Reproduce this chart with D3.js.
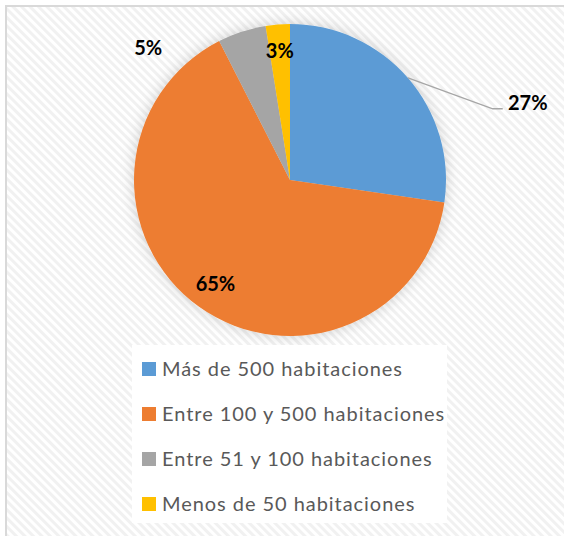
<!DOCTYPE html>
<html><head><meta charset="utf-8">
<script src="https://cdn.jsdelivr.net/npm/d3@7"></script>
<style>html,body{margin:0;padding:0;background:#fff;}svg{display:block;}</style>
</head><body>
<svg id="c" width="564" height="536"></svg>
<script>
const categories = ["Más de 500 habitaciones", "Entre 100 y 500 habitaciones", "Entre 51 y 100 habitaciones", "Menos de 50 habitaciones"];
const values = [27.3, 65.2, 5.0, 2.5];
const colors = ["#5b9bd5", "#ed7d31", "#a5a5a5", "#ffc000"];

const svg = d3.select("#c");
const defs = svg.append("defs");
const pat = defs.append("pattern").attr("id","stripes").attr("patternUnits","userSpaceOnUse")
  .attr("width",6).attr("height",6).attr("patternTransform","rotate(45)");
pat.append("rect").attr("width",6).attr("height",6).attr("fill","#ffffff");
pat.append("rect").attr("width",6).attr("height",3).attr("fill","#f1f1f1");
const f = defs.append("filter").attr("id","glow").attr("x","-20%").attr("y","-20%").attr("width","140%").attr("height","140%");
f.append("feGaussianBlur").attr("in","SourceAlpha").attr("stdDeviation",7).attr("result","b");
f.append("feFlood").attr("flood-color","#000").attr("flood-opacity",0.18);
f.append("feComposite").attr("in2","b").attr("operator","in").attr("result","s");
const m = f.append("feMerge"); m.append("feMergeNode").attr("in","s"); m.append("feMergeNode").attr("in","SourceGraphic");

// chart area
svg.append("rect").attr("x",6).attr("y",6).attr("width",570).attr("height",540)
  .attr("fill","url(#stripes)").attr("stroke","#d9d9d9").attr("stroke-width",2);

const cx = 290, cy = 180, r = 156;
const pie = d3.pie().sort(null).value(d => d);
const arcs = pie(values);
const arc = d3.arc().innerRadius(0).outerRadius(r);
const total = d3.sum(values);
const g = svg.append("g").attr("transform",`translate(${cx},${cy})`);
g.append("g").attr("filter","url(#glow)").selectAll("path").data(arcs).join("path")
  .attr("d",arc).attr("fill",(d,i)=>colors[i]);

// label placement (degrees clockwise from north, radius)
const labelPos = [{a:72, rr:250, leader:true}, {a:null, rr:0.82}, {a:313, rr:194}, {a:null, rr:0.83}];
const polar = (a, rr) => [rr*Math.sin(a*Math.PI/180), -rr*Math.cos(a*Math.PI/180)];
arcs.forEach((d,i)=>{
  const lp = labelPos[i];
  let p;
  if (lp.a === null) { const mid = (d.startAngle+d.endAngle)/2*180/Math.PI; p = polar(mid, lp.rr*r); }
  else p = polar(lp.a, lp.rr);
  const txt = Math.round(d.value/total*100) + "%";
  if (lp.leader) {
    const mid = (d.startAngle+d.endAngle)/2*180/Math.PI;
    const s = polar(mid, r);
    const e = [p[0]-35, p[1]+6];
    g.append("path").attr("d",`M${s[0]},${s[1]}L${e[0]},${e[1]}L${e[0]+10},${e[1]}`)
      .attr("fill","none").attr("stroke","#a6a6a6").attr("stroke-width",1.3);
  }
  g.append("text").attr("x",p[0]).attr("y",p[1]).attr("text-anchor","middle").attr("dy","0.36em")
    .attr("font-family","Lato, 'Open Sans', sans-serif").attr("font-weight","bold").attr("font-size",20)
    .attr("fill","#000").text(txt);
});

// legend
const lg = svg.append("g");
lg.append("rect").attr("x",132).attr("y",345).attr("width",315).attr("height",178).attr("fill","#fff");
const items = lg.selectAll("g.it").data(categories).join("g").attr("class","it")
  .attr("transform",(d,i)=>`translate(142,${362+i*45})`);
items.append("rect").attr("width",14).attr("height",14).attr("fill",(d,i)=>colors[i]);
items.append("text").attr("x",20).attr("y",7).attr("dy","0.35em")
  .attr("font-family","Lato, 'Open Sans', sans-serif").attr("font-size",20).attr("letter-spacing","0.95px")
  .attr("fill","#595959").text(d=>d);
</script>
</body></html>
